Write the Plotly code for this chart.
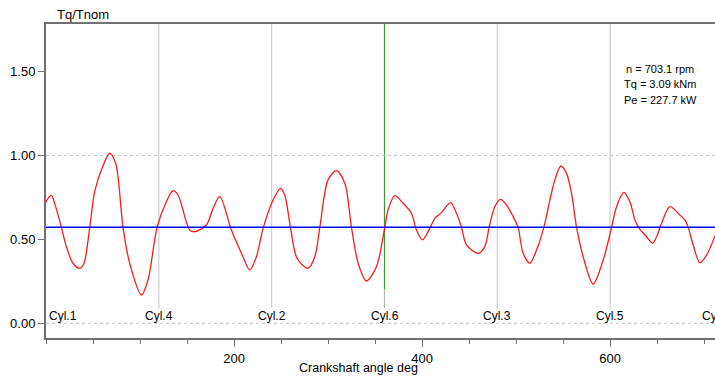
import plotly.graph_objects as go

# ---- data ----
angle_deg = [0, 1, 5.7, 10, 16.4, 21.7, 28.7, 35.9, 40.4, 46.5, 51.8, 58.9, 67.8, 74.1, 81.9, 89, 101.5, 108.5,
             118.1, 128, 135.1, 140.4, 152.9, 158.2, 170.6, 177.7, 184.8, 197.2, 207.9, 216.7, 223.8, 230.9,
             241.5, 249.4, 253.9, 260, 267, 278.7, 285.9, 291.2, 300, 308.9, 317.8, 324.9, 332, 340.8, 351.5,
             360.3, 363.8, 371, 379.8, 388.7, 394, 400.4, 408.2, 413.5, 420.6, 430.2, 436.6, 441.9, 447.2,
             459.6, 466.7, 471.3, 477.3, 483.4, 489.8, 496.8, 502.1, 507.4, 514.6, 521.7, 529.5, 535.9, 541.2,
             547.6, 553.6, 558.9, 564.3, 571.3, 581.9, 592.6, 601.5, 606.8, 614.6, 621, 626.3, 630.9, 638.8,
             645.1, 649.4, 654.7, 663.5, 674.1, 679.5, 683, 688.3, 695.4, 702.6, 711.5, 716]
tq_ratio = [0.72, 0.735, 0.763, 0.70, 0.572, 0.457, 0.358, 0.328, 0.358, 0.572, 0.785, 0.914, 1.014, 0.954, 0.572,
            0.358, 0.169, 0.258, 0.572, 0.725, 0.791, 0.765, 0.556, 0.546, 0.586, 0.686, 0.755, 0.556, 0.417,
            0.318, 0.397, 0.566, 0.735, 0.805, 0.765, 0.572, 0.388, 0.328, 0.397, 0.572, 0.855, 0.91, 0.835,
            0.572, 0.358, 0.252, 0.338, 0.572, 0.676, 0.761, 0.716, 0.656, 0.556, 0.497, 0.566, 0.626, 0.66,
            0.719, 0.656, 0.572, 0.467, 0.417, 0.457, 0.572, 0.695, 0.739, 0.705, 0.636, 0.572, 0.417, 0.358,
            0.437, 0.572, 0.735, 0.855, 0.938, 0.894, 0.775, 0.572, 0.397, 0.234, 0.377, 0.572, 0.695, 0.781,
            0.725, 0.616, 0.566, 0.516, 0.477, 0.516, 0.596, 0.695, 0.646, 0.616, 0.572, 0.467, 0.361, 0.407,
            0.521, 0.58]
mean_ratio = 0.573

cyl_angles = [0, 120, 240, 360, 480, 600]
cyl_labels = ["Cyl.1", "Cyl.4", "Cyl.2", "Cyl.6", "Cyl.3", "Cyl.5"]
last_cyl_label = "Cyl.1"

y_tick_vals = [0, 0.5, 1.0, 1.5]
x_tick_vals = [200, 400, 600]

info_lines = ["n = 703.1 rpm", "Tq = 3.09 kNm", "Pe = 227.7 kW"]

X_RANGE = [0, 711.5]
Y_RANGE = [-0.088, 1.785]

FONT = "Liberation Sans, Arial, sans-serif"
AXIS_COLOR = "#707070"

fig = go.Figure()

# vertical cylinder firing lines
for a in cyl_angles[1:]:
    if a == 360:
        fig.add_shape(type="line", x0=a, x1=a, y0=0.2, y1=Y_RANGE[1], xref="x", yref="y",
                      line=dict(color="#3a9a3a", width=1.2), layer="below")
        fig.add_shape(type="line", x0=a, x1=a, y0=0.09, y1=0.2, xref="x", yref="y",
                      line=dict(color="#b8b8b8", width=1.2), layer="below")
    else:
        fig.add_shape(type="line", x0=a, x1=a, y0=0.09, y1=Y_RANGE[1], xref="x", yref="y",
                      line=dict(color="#d0d0d0", width=1.2), layer="below")

# dashed horizontal lines
for yv in [0.0, 1.0]:
    fig.add_shape(type="line", x0=X_RANGE[0], x1=X_RANGE[1], y0=yv, y1=yv, xref="x", yref="y",
                  line=dict(color="#c0c0c0", width=1, dash="3px,3px"), layer="below")

# torque curve
fig.add_trace(go.Scatter(x=angle_deg, y=tq_ratio, mode="lines",
                         line=dict(color="#ff1a1a", width=1.3, shape="spline", smoothing=0.85),
                         hoverinfo="skip", showlegend=False))

# mean line
fig.add_trace(go.Scatter(x=X_RANGE, y=[mean_ratio, mean_ratio], mode="lines",
                         line=dict(color="#0000ee", width=1.5), hoverinfo="skip", showlegend=False))

# cylinder labels
for a, lab in zip(cyl_angles, cyl_labels):
    fig.add_annotation(x=a, y=0.046, xref="x", yref="y", text=lab, showarrow=False,
                       xanchor="left" if a == 0 else "center", yanchor="middle",
                       xshift=1 if a == 0 else 0,
                       font=dict(family=FONT, size=12, color="#000000"))
fig.add_annotation(x=(700 - 46) / 669, y=0.046, xref="paper", yref="y", text=last_cyl_label,
                   showarrow=False, xanchor="left", yanchor="middle",
                   font=dict(family=FONT, size=12, color="#000000"))

# info text
for line, py in zip(info_lines, [68.5, 84, 100]):
    fig.add_annotation(x=(660 - 46) / 669, y=(338 - py) / 314, xref="paper", yref="paper",
                       text=line, showarrow=False, xanchor="center", yanchor="middle",
                       font=dict(family=FONT, size=11, color="#000000"))

# axis titles
fig.add_annotation(x=(55 - 46) / 669, y=(338 - 15) / 314, xref="paper", yref="paper",
                   text="Tq/Tnom", showarrow=False, xanchor="left", yanchor="middle",
                   font=dict(family=FONT, size=13, color="#000000"))
fig.add_annotation(x=(358 - 46) / 669, y=(338 - 368) / 314, xref="paper", yref="paper",
                   text="Crankshaft angle deg", showarrow=False, xanchor="center", yanchor="middle",
                   font=dict(family=FONT, size=12.5, color="#000000"))

fig.update_layout(
    width=715, height=376,
    margin=dict(l=46, r=0, t=24, b=38),
    paper_bgcolor="white", plot_bgcolor="white",
    showlegend=False,
    xaxis=dict(range=X_RANGE, showgrid=False, zeroline=False,
               showline=True, linecolor=AXIS_COLOR, linewidth=2, mirror=True,
               tickmode="array", tickvals=x_tick_vals, ticks="outside", ticklen=7,
               tickcolor=AXIS_COLOR, tickwidth=1,
               minor=dict(tickmode="linear", tick0=0, dtick=50, ticks="outside", ticklen=4,
                          tickcolor=AXIS_COLOR, tickwidth=1, showgrid=False),
               tickfont=dict(family=FONT, size=13, color="#000000")),
    yaxis=dict(range=Y_RANGE, showgrid=False, zeroline=False,
               showline=True, linecolor=AXIS_COLOR, linewidth=2, mirror=False,
               tickmode="array", tickvals=y_tick_vals, tickformat=".2f",
               ticks="outside", ticklen=6, tickcolor=AXIS_COLOR, tickwidth=1,
               tickfont=dict(family=FONT, size=13, color="#000000")),
)

fig.write_html("out.html", config={"displayModeBar": False},
               post_script="document.body.style.margin='0';document.body.style.overflow='hidden';")
